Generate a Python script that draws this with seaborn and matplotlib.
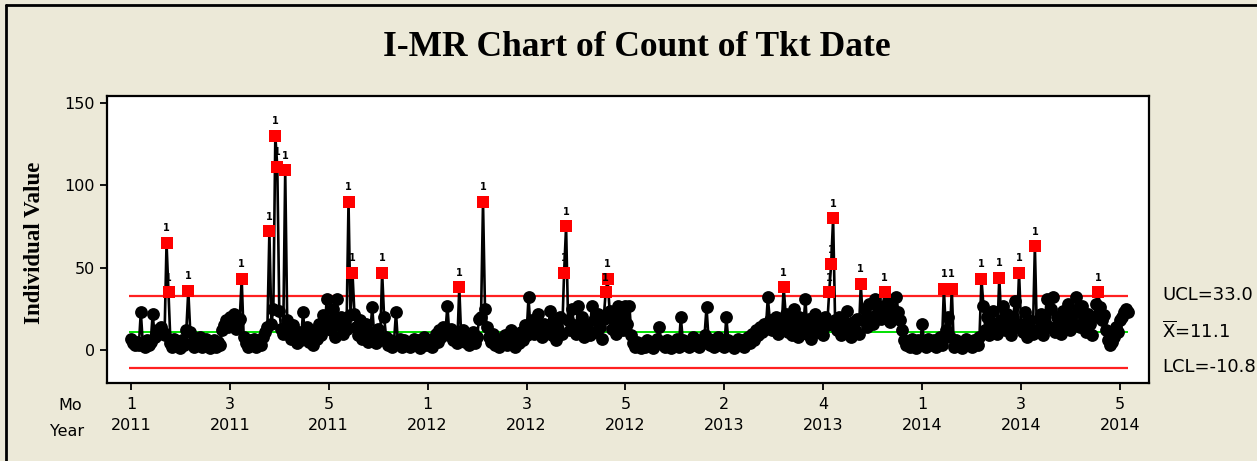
import numpy as np
import pandas as pd
import matplotlib
matplotlib.use("Agg")
import matplotlib.pyplot as plt
from matplotlib.lines import Line2D
import seaborn as sns

# daily ticket counts (left to right)
counts = [
    7, 4, 3, 5, 3, 23, 4, 2, 6, 3,
    5, 22, 8, 12, 10, 14, 11, 9, 65, 35,
    4, 2, 7, 3, 5, 1, 6, 3, 12, 36,
    11, 4, 2, 6, 3, 8, 2, 5, 7, 3,
    1, 4, 6, 2, 5, 3, 12, 15, 18, 14,
    20, 16, 22, 13, 17, 19, 43, 8, 4, 2,
    6, 3, 7, 2, 5, 4, 3, 8, 11, 14,
    72, 16, 25, 130, 111, 24, 13, 10, 109, 18,
    12, 7, 15, 9, 4, 11, 6, 23, 8, 14,
    5, 10, 3, 12, 7, 16, 9, 21, 14, 31,
    18, 12, 25, 8, 31, 15, 20, 10, 17, 13,
    90, 21, 47, 22, 14, 9, 18, 7, 12, 16,
    5, 11, 26, 9, 4, 13, 6, 47, 20, 8,
    3, 6, 2, 5, 23, 4, 7, 2, 6, 3,
    5, 2, 4, 7, 3, 6, 1, 5, 8, 3,
    4, 6, 2, 7, 10, 5, 12, 8, 14, 11,
    27, 9, 13, 6, 10, 4, 38, 7, 12, 5,
    9, 3, 6, 11, 4, 8, 19, 20, 90, 25,
    14, 8, 5, 10, 3, 7, 2, 6, 4, 9,
    3, 5, 12, 7, 2, 8, 4, 11, 6, 15,
    9, 32, 13, 18, 10, 15, 22, 12, 8, 16,
    11, 14, 24, 9, 17, 6, 13, 20, 10, 47,
    75, 18, 12, 25, 15, 10, 27, 14, 20, 8,
    16, 12, 9, 27, 18, 11, 22, 14, 7, 19,
    35, 43, 24, 13, 18, 10, 27, 15, 20, 12,
    27, 16, 27, 9, 4, 2, 5, 3, 1, 4,
    2, 6, 3, 5, 1, 4, 7, 14, 5, 3,
    2, 6, 4, 1, 5, 3, 7, 2, 20, 6,
    3, 5, 2, 4, 8, 3, 6, 2, 5, 4,
    9, 26, 7, 3, 6, 2, 4, 8, 3, 5,
    2, 20, 6, 3, 5, 1, 4, 7, 3, 6,
    2, 5, 8, 4, 10, 6, 12, 9, 14, 11,
    16, 13, 32, 18, 12, 15, 20, 10, 17, 14,
    38, 22, 11, 18, 9, 25, 14, 8, 20, 12,
    16, 31, 10, 19, 7, 14, 22, 11, 17, 13,
    9, 20, 15, 35, 52, 80, 18, 12, 20, 9,
    15, 11, 24, 14, 8, 17, 12, 19, 10, 40,
    18, 25, 14, 28, 20, 16, 31, 22, 27, 19,
    24, 35, 21, 29, 17, 25, 20, 32, 23, 18,
    12, 6, 3, 5, 2, 7, 4, 1, 6, 3,
    16, 5, 2, 7, 4, 3, 6, 2, 5, 8,
    3, 37, 12, 20, 8, 37, 2, 6, 3, 5,
    1, 4, 7, 3, 5, 2, 6, 4, 3, 8,
    43, 27, 12, 20, 9, 17, 24, 13, 10, 44,
    18, 27, 12, 22, 15, 9, 20, 30, 14, 47,
    16, 11, 23, 8, 18, 13, 10, 63, 12, 19,
    22, 9, 17, 31, 14, 25, 32, 11, 20, 15,
    10, 24, 13, 18, 28, 12, 21, 16, 32, 25,
    14, 27, 19, 11, 22, 16, 9, 20, 28, 35,
    26, 18, 21, 12, 6, 3, 5, 8, 14, 11,
    18, 20, 23, 25, 23,
]

months = ["1", "3", "5", "1", "3", "5", "2", "4", "1", "3", "5"]
years = ["2011", "2011", "2011", "2012", "2012", "2012",
         "2013", "2013", "2014", "2014", "2014"]
tick_step = 50

ucl = 33.0
center = 11.1
lcl = -10.8

df = pd.DataFrame({"obs": np.arange(len(counts)), "count": counts})
df["flag"] = df["count"] > ucl

W, H = 1257, 461
bg = "#ECE9D8"

sns.set_style("white")
plt.rcParams["font.family"] = ["DejaVu Sans"]
plt.rcParams["text.color"] = "black"
plt.rcParams["axes.labelcolor"] = "black"
plt.rcParams["xtick.color"] = "black"
plt.rcParams["ytick.color"] = "black"

fig = plt.figure(figsize=(W / 100, H / 100), dpi=100, facecolor=bg)
ax = fig.add_axes([107 / W, 1 - 383 / H, (1149 - 107) / W, (383 - 96) / H])
ax.set_facecolor("white")

n = len(df)
ax.hlines([ucl, lcl], -1, n - 1, colors="#FF2020", lw=1.6, zorder=1)
ax.hlines(center, -1, n - 1, colors="#00E000", lw=1.4, zorder=1)

sns.lineplot(data=df, x="obs", y="count", color="black", lw=1.9, ax=ax, zorder=2)
sns.scatterplot(data=df[~df["flag"]], x="obs", y="count", color="black",
                marker="o", s=85, edgecolor="black", linewidth=0, ax=ax, zorder=3)
sns.scatterplot(data=df[df["flag"]], x="obs", y="count", color="#FF0000",
                marker="s", s=80, edgecolor="#FF0000", linewidth=0, ax=ax, zorder=4)

for _, r in df[df["flag"]].iterrows():
    ax.annotate("1", (r["obs"], r["count"]), xytext=(0, 7), textcoords="offset points",
                ha="center", va="bottom", fontsize=7, fontweight="bold", color="black",
                zorder=5)

ax.set_xlim(-12.1, 514.7)
ax.set_ylim(-20, 154.2)
ax.set_yticks([0, 50, 100, 150])
ax.set_xticks(np.arange(len(months)) * tick_step)
ax.set_xticklabels([f"{m}\n{y}" for m, y in zip(months, years)], linespacing=1.55)
ax.tick_params(axis="both", direction="out", length=5, width=1.3, colors="black",
               labelsize=11.5, bottom=True, left=True)
ax.tick_params(axis="x", pad=5)
ax.set_xlabel("")
ax.set_ylabel("")
for sp in ax.spines.values():
    sp.set_color("black")
    sp.set_linewidth(1.6)

fig.text(637 / W, 1 - 47 / H, "I-MR Chart of Count of Tkt Date", ha="center", va="center",
         fontsize=25.5, fontweight="bold", family="Liberation Serif")
fig.text(35 / W, 1 - 243 / H, "Individual Value", rotation=90, ha="center", va="center",
         fontsize=16.5, fontweight="bold", family="Liberation Serif")

fig.text(82 / W, 1 - 405 / H, "Mo", ha="right", va="center", fontsize=11.5)
fig.text(84 / W, 1 - 431 / H, "Year", ha="right", va="center", fontsize=11.5)

lab_x = 1162 / W
fig.text(lab_x, 1 - 295 / H, f"UCL={ucl:.1f}", ha="left", va="center", fontsize=13)
fig.text(lab_x, 1 - 331 / H, r"$\mathregular{\overline{X}}$" + f"={center:.1f}",
         ha="left", va="center", fontsize=13)
fig.text(lab_x, 1 - 367 / H, f"LCL={lcl:.1f}", ha="left", va="center", fontsize=13)

# outer panel frame (left and top edges visible)
fig.add_artist(Line2D([6 / W, 6 / W], [0, 1 - 5 / H], color="black", lw=2,
                      transform=fig.transFigure))
fig.add_artist(Line2D([6 / W, 1], [1 - 5 / H, 1 - 5 / H], color="black", lw=2,
                      transform=fig.transFigure))

fig.savefig("out.png", dpi=100, facecolor=bg)
